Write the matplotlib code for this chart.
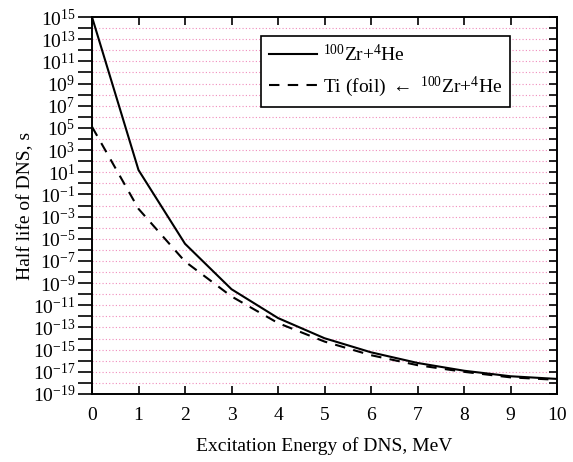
import matplotlib
matplotlib.use("Agg")
import matplotlib.pyplot as plt
import numpy as np
from matplotlib.ticker import FixedLocator, FuncFormatter

plt.rcParams['font.family'] = ['Liberation Serif', 'DejaVu Serif']
plt.rcParams['mathtext.fontset'] = 'custom'
plt.rcParams['mathtext.rm'] = 'Liberation Serif'
plt.rcParams['mathtext.it'] = 'Liberation Serif:italic'

energy = [0, 1, 2, 3, 4, 5, 6, 7, 8, 9, 10]
log_t_direct = [15.0, 1.2, -5.45, -9.55, -12.15, -13.97, -15.24, -16.2, -16.9, -17.4, -17.64]
log_t_foil = [5.1, -2.3, -7.05, -10.2, -12.6, -14.27, -15.5, -16.4, -17.0, -17.5, -17.72]
label_direct = r'$^{100}$Zr+$^{4}$He'
label_foil = r'Ti (foil) $\leftarrow$ $^{100}$Zr+$^{4}$He'
major_exps = list(range(15, -20, -2))
minor_exps = list(range(14, -19, -2))

fig = plt.figure(figsize=(5.73, 4.62), dpi=100)
ax = fig.add_axes([92/573, 1-394/462, (557-92)/573, (394-17)/462])

ax.plot(energy, 10.0**np.array(log_t_direct), color='black', lw=1.5, label=label_direct)
ax.plot(energy, 10.0**np.array(log_t_foil), color='black', lw=1.5, ls=(0, (5, 4)), label=label_foil)

ax.set_yscale('log')
ax.set_xlim(0, 10)
ax.set_ylim(1e-19, 1e15)
ax.set_xticks(energy)
ax.yaxis.set_major_locator(FixedLocator([10.0**e for e in major_exps]))
ax.yaxis.set_minor_locator(FixedLocator([10.0**e for e in minor_exps]))
ax.yaxis.set_major_formatter(FuncFormatter(lambda v, p: r'$10^{%d}$' % round(np.log10(v))))
ax.yaxis.set_minor_formatter(FuncFormatter(lambda v, p: ''))

for e in range(-18, 15):
    ax.axhline(10.0**e, color='#f08cbc', lw=0.8, ls=(0, (1, 2)), zorder=0)

ax.tick_params(axis='y', which='both', direction='out', length=10, width=1.2, labelsize=14, left=True, right=False, pad=2)
ax.tick_params(axis='x', which='both', direction='in', length=6, width=1.2, labelsize=14, top=True, pad=9)
ax.tick_params(axis='x', which='minor', bottom=False, top=False)

# inward ticks on the right spine
ax2 = ax.twinx()
ax2.set_yscale('log')
ax2.set_ylim(ax.get_ylim())
ax2.yaxis.set_major_locator(FixedLocator([10.0**e for e in major_exps]))
ax2.yaxis.set_minor_locator(FixedLocator([10.0**e for e in minor_exps]))
ax2.tick_params(axis='y', which='both', direction='in', length=6, width=1.2, labelright=False)
ax2.yaxis.set_minor_formatter(FuncFormatter(lambda v, p: ''))

for a in (ax, ax2):
    for s in a.spines.values():
        s.set_linewidth(1.2)

ax.set_xlabel('Excitation Energy of DNS, MeV', fontsize=14, labelpad=10)
ax.set_ylabel('Half life of DNS, s', fontsize=14, labelpad=-1)

leg = ax2.legend(*ax.get_legend_handles_labels(), loc='upper right', bbox_to_anchor=(510/573, 1-36/462),
                 bbox_transform=fig.transFigure,
                 fontsize=14, frameon=True, fancybox=False, edgecolor='black', framealpha=1,
                 handlelength=2.5, borderpad=0.4, labelspacing=0.5, handletextpad=0.3, borderaxespad=0)
leg.get_frame().set_linewidth(1.2)

fig.savefig('out.png', dpi=100)
